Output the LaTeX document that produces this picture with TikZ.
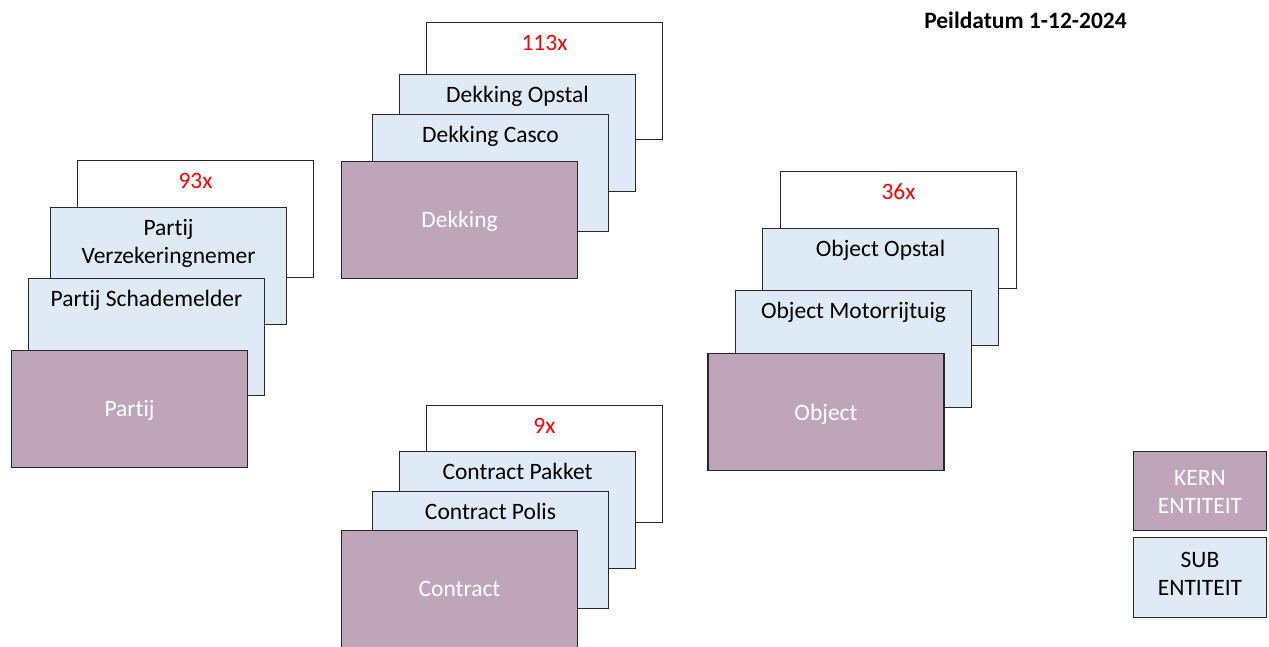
\documentclass[tikz,border=0pt]{standalone}
\usepackage{fontspec}
\setmainfont[Ligatures={NoCommon,NoContextual}]{Carlito}
\definecolor{kernfill}{RGB}{190,165,185}
\definecolor{subfill}{RGB}{222,235,247}
\definecolor{edge}{RGB}{40,40,40}
\begin{document}
\begin{tikzpicture}[x=1pt,y=-1pt,
  box/.style={draw=edge,line width=1.1pt,minimum width=236pt,minimum height=117pt,inner sep=0pt},
  backbox/.style={box,fill=white},
  subbox/.style={box,fill=subfill},
  kernbox/.style={box,fill=kernfill},
  txt/.style={inner sep=0pt,font=\fontsize{23.5}{28}\selectfont,anchor=base,align=center},
  cnt/.style={txt,text=red},
  subtxt/.style={txt,text=black},
  kerntxt/.style={txt,text=white},
  legkern/.style={draw=edge,line width=1.1pt,fill=kernfill,minimum width=133pt,minimum height=79pt,inner sep=0pt},
  legsub/.style={draw=edge,line width=1.1pt,fill=subfill,minimum width=133pt,minimum height=80pt,inner sep=0pt}
]
\useasboundingbox (0,0) rectangle (1269,646);
% Partij group
\node[backbox] (p0) at (195.5,219) {};
\node[cnt] (p0t) at (195.5,188) {93x};
\node[subbox] (p1) at (168.5,266) {};
\node[subtxt] (p1t) at (168.5,263) {Partij\\Verzekeringnemer};
\node[subbox] (p2) at (146.5,337) {};
\node[subtxt] (p2t) at (146.5,306) {Partij Schademelder};
\node[kernbox] (pk) at (129.5,409) {};
\node[kerntxt] (pkt) at (129.5,416.5) {Partij};
% Dekking group
\node[backbox] (d0) at (544.5,81) {};
\node[cnt] (d0t) at (544.5,50) {113x};
\node[subbox] (d1) at (517.5,133) {};
\node[subtxt] (d1t) at (517.5,102) {Dekking Opstal};
\node[subbox] (d2) at (490.5,173) {};
\node[subtxt] (d2t) at (490.5,142) {Dekking Casco};
\node[kernbox] (dk) at (459.5,220) {};
\node[kerntxt] (dkt) at (459.5,227) {Dekking};
% Contract group
\node[backbox] (c0) at (544.5,464) {};
\node[cnt] (c0t) at (544.5,433) {9x};
\node[subbox] (c1) at (517.5,510) {};
\node[subtxt] (c1t) at (517.5,479) {Contract Pakket};
\node[subbox] (c2) at (490.5,550) {};
\node[subtxt] (c2t) at (490.5,519) {Contract Polis};
\node[kernbox] (ck) at (459.5,589) {};
\node[kerntxt] (ckt) at (459.5,596.5) {Contract};
% Object group
\node[backbox] (o0) at (898.5,230) {};
\node[cnt] (o0t) at (898.5,199) {36x};
\node[subbox] (o1) at (880.5,287) {};
\node[subtxt] (o1t) at (880.5,256) {Object Opstal};
\node[subbox] (o2) at (853.5,349) {};
\node[subtxt] (o2t) at (853.5,318) {Object Motorrijtuig};
\node[kernbox] (ok) at (826,412) {};
\node[kerntxt] (okt) at (826,420) {Object};
% Legend
\node[legkern] (lk) at (1200,491) {};
\node[kerntxt] (lkt) at (1200,513) {KERN\\ENTITEIT};
\node[legsub] (ls) at (1200,577.5) {};
\node[subtxt] (lst) at (1200,595) {SUB\\ENTITEIT};
% Date
\node[txt,font=\fontsize{23.5}{28}\selectfont\bfseries] (date) at (1025.5,28.3) {Peildatum 1-12-2024};
\end{tikzpicture}
\end{document}
